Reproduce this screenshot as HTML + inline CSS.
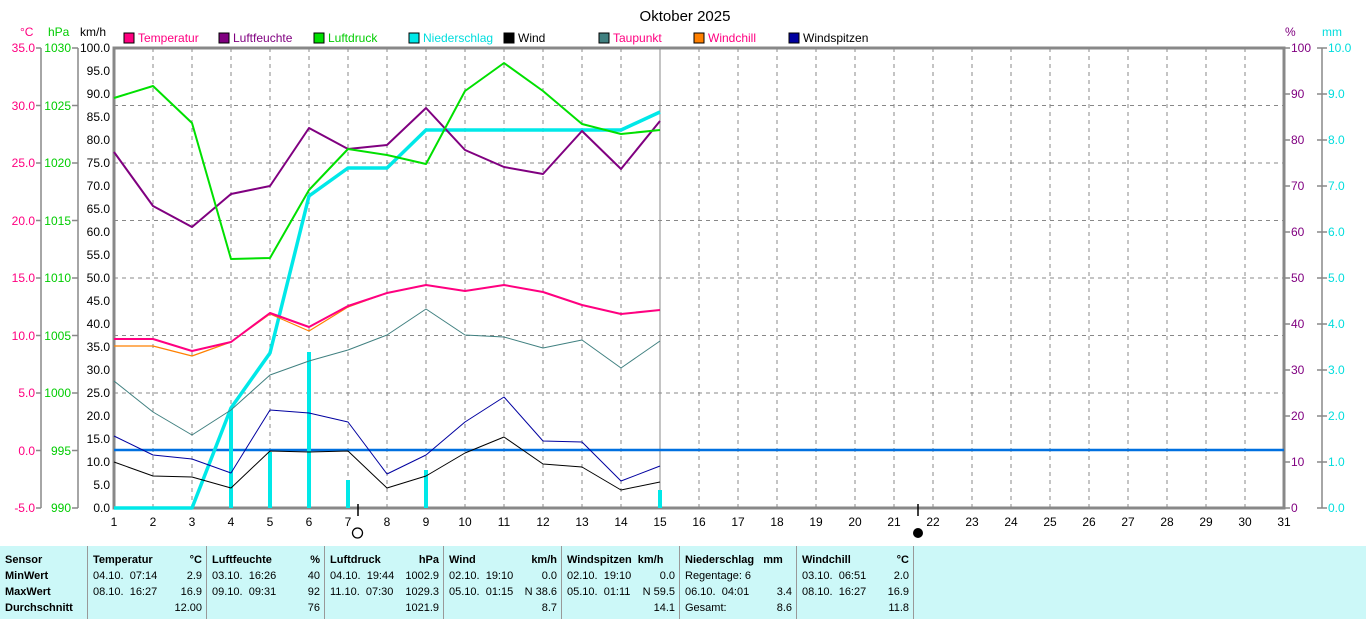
<!DOCTYPE html>
<html><head><meta charset="utf-8"><style>
body{margin:0;background:#fff;width:1366px;height:619px;overflow:hidden;position:relative;font-family:"Liberation Sans",sans-serif}
svg text{font-family:"Liberation Sans",sans-serif;font-size:12px}
#tb{position:absolute;left:0;top:546px;width:1366px;height:73px;background:#ccf8f8}
.c{position:absolute;top:0;height:73px;border-right:1px solid #999;font-family:"Liberation Sans Narrow","Liberation Sans",sans-serif;font-size:11px;line-height:16px;padding-top:6px;box-sizing:border-box}
.r{position:relative;height:16px;white-space:nowrap}
.l{position:absolute;left:5px}.rt{position:absolute;right:4px}
b{font-weight:bold}
</style></head><body>
<svg width="1366" height="546" style="position:absolute;left:0;top:0">
<text x="685" y="21" text-anchor="middle" font-size="15" style="font-size:15px">Oktober 2025</text>
<g id="legend">
<rect x="124" y="33" width="10" height="10" fill="#ff0080" stroke="#000"/><text x="138" y="42" fill="#ff0080">Temperatur</text>
<rect x="219" y="33" width="10" height="10" fill="#800080" stroke="#000"/><text x="233" y="42" fill="#800080">Luftfeuchte</text>
<rect x="314" y="33" width="10" height="10" fill="#00e000" stroke="#000"/><text x="328" y="42" fill="#00cc00">Luftdruck</text>
<rect x="409" y="33" width="10" height="10" fill="#00e8e8" stroke="#000"/><text x="423" y="42" fill="#00dddd">Niederschlag</text>
<rect x="504" y="33" width="10" height="10" fill="#000" stroke="#000"/><text x="518" y="42">Wind</text>
<rect x="599" y="33" width="10" height="10" fill="#408080" stroke="#000"/><text x="613" y="42" fill="#ff0080">Taupunkt</text>
<rect x="694" y="33" width="10" height="10" fill="#ff8000" stroke="#000"/><text x="708" y="42" fill="#ff0080">Windchill</text>
<rect x="789" y="33" width="10" height="10" fill="#0000a0" stroke="#000"/><text x="803" y="42">Windspitzen</text>
</g>
<text x="20" y="36" fill="#ff0080">°C</text><text x="48" y="36" fill="#00cc00">hPa</text><text x="80" y="36">km/h</text>
<text x="1285" y="36" fill="#800080">%</text><text x="1322" y="36" fill="#00dddd">mm</text>
<!-- grid -->
<g stroke="#888" stroke-dasharray="4,4" stroke-width="1">
<path d="M153 48V508M192 48V508M231 48V508M270 48V508M309 48V508M348 48V508M387 48V508M426 48V508M465 48V508M504 48V508M543 48V508M582 48V508M621 48V508M699 48V508M738 48V508M777 48V508M816 48V508M855 48V508M894 48V508M933 48V508M972 48V508M1011 48V508M1050 48V508M1089 48V508M1128 48V508M1167 48V508M1206 48V508M1245 48V508"/>
<path d="M114 105.5H1284M114 163H1284M114 220.5H1284M114 278H1284M114 335.5H1284M114 393H1284"/>
</g>
<path d="M660 48V508" stroke="#888" stroke-width="1"/>
<path d="M114 48H1284V508H114Z" fill="none" stroke="#888" stroke-width="3"/>
<!-- axis lines -->
<g stroke="#888" stroke-width="1.5">
<path d="M41 48V508M78 48V508M1322 48V508"/>
<path d="M36 48h5M36 105.5h5M36 163h5M36 220.5h5M36 278h5M36 335.5h5M36 393h5M36 450.5h5M36 508h5"/>
<path d="M72 48h6M72 105.5h6M72 163h6M72 220.5h6M72 278h6M72 335.5h6M72 393h6M72 450.5h6M72 508h6"/>
<path d="M1284 48h6M1284 94h6M1284 140h6M1284 186h6M1284 232h6M1284 278h6M1284 324h6M1284 370h6M1284 416h6M1284 462h6M1284 508h6"/>
<path d="M1317 48h10M1317 94h10M1317 140h10M1317 186h10M1317 232h10M1317 278h10M1317 324h10M1317 370h10M1317 416h10M1317 462h10M1317 508h10"/>
</g>
<g fill="#ff0080" text-anchor="end">
<text x="35" y="52">35.0</text><text x="35" y="110">30.0</text><text x="35" y="167">25.0</text><text x="35" y="225">20.0</text><text x="35" y="282">15.0</text><text x="35" y="340">10.0</text><text x="35" y="397">5.0</text><text x="35" y="455">0.0</text><text x="35" y="512">-5.0</text>
</g>
<g fill="#00cc00" text-anchor="end">
<text x="71" y="52">1030</text><text x="71" y="110">1025</text><text x="71" y="167">1020</text><text x="71" y="225">1015</text><text x="71" y="282">1010</text><text x="71" y="340">1005</text><text x="71" y="397">1000</text><text x="71" y="455">995</text><text x="71" y="512">990</text>
</g>
<g text-anchor="end">
<text x="110" y="52">100.0</text><text x="110" y="75">95.0</text><text x="110" y="98">90.0</text><text x="110" y="121">85.0</text><text x="110" y="144">80.0</text><text x="110" y="167">75.0</text><text x="110" y="190">70.0</text><text x="110" y="213">65.0</text><text x="110" y="236">60.0</text><text x="110" y="259">55.0</text><text x="110" y="282">50.0</text><text x="110" y="305">45.0</text><text x="110" y="328">40.0</text><text x="110" y="351">35.0</text><text x="110" y="374">30.0</text><text x="110" y="397">25.0</text><text x="110" y="420">20.0</text><text x="110" y="443">15.0</text><text x="110" y="466">10.0</text><text x="110" y="489">5.0</text><text x="110" y="512">0.0</text>
</g>
<g fill="#800080">
<text x="1291" y="52">100</text><text x="1291" y="98">90</text><text x="1291" y="144">80</text><text x="1291" y="190">70</text><text x="1291" y="236">60</text><text x="1291" y="282">50</text><text x="1291" y="328">40</text><text x="1291" y="374">30</text><text x="1291" y="420">20</text><text x="1291" y="466">10</text><text x="1291" y="512">0</text>
</g>
<g fill="#00dddd">
<text x="1328" y="52">10.0</text><text x="1328" y="98">9.0</text><text x="1328" y="144">8.0</text><text x="1328" y="190">7.0</text><text x="1328" y="236">6.0</text><text x="1328" y="282">5.0</text><text x="1328" y="328">4.0</text><text x="1328" y="374">3.0</text><text x="1328" y="420">2.0</text><text x="1328" y="466">1.0</text><text x="1328" y="512">0.0</text>
</g>
<g text-anchor="middle">
<text x="114" y="526">1</text><text x="153" y="526">2</text><text x="192" y="526">3</text><text x="231" y="526">4</text><text x="270" y="526">5</text><text x="309" y="526">6</text><text x="348" y="526">7</text><text x="387" y="526">8</text><text x="426" y="526">9</text><text x="465" y="526">10</text><text x="504" y="526">11</text><text x="543" y="526">12</text><text x="582" y="526">13</text><text x="621" y="526">14</text><text x="660" y="526">15</text><text x="699" y="526">16</text><text x="738" y="526">17</text><text x="777" y="526">18</text><text x="816" y="526">19</text><text x="855" y="526">20</text><text x="894" y="526">21</text><text x="933" y="526">22</text><text x="972" y="526">23</text><text x="1011" y="526">24</text><text x="1050" y="526">25</text><text x="1089" y="526">26</text><text x="1128" y="526">27</text><text x="1167" y="526">28</text><text x="1206" y="526">29</text><text x="1245" y="526">30</text><text x="1284" y="526">31</text>
</g>
<path d="M358 504V516M918 504V516" stroke="#000" stroke-width="1.5"/>
<circle cx="357.5" cy="533" r="5" fill="none" stroke="#000" stroke-width="1.3"/>
<circle cx="918" cy="533" r="5" fill="#000"/>
<!-- 0°C line -->
<path d="M114 450H1284" stroke="#0070e0" stroke-width="2.5"/>
<!-- rain bars -->
<g stroke="#00e8e8" stroke-width="4">
<path d="M231 508V408M270 508V452M309 508V352M348 508V480M426 508V470M660 508V490"/>
</g>
<g fill="none" stroke-linejoin="round">
<polyline stroke="#00e8e8" stroke-width="3.5" points="114,508 153,508 192,508 231,408 270,353 309,196 348,168 387,168 426,130 465,130 504,130 543,130 582,130 621,130 660,112"/>
<polyline stroke="#000" stroke-width="1" points="114,462 153,476 192,477 231,488 270,451 309,452 348,451 387,488 426,476 465,453 504,437 543,464 582,467 621,490 660,482"/>
<polyline stroke="#0000a0" stroke-width="1" points="114,436 153,455 192,459 231,473 270,410 309,413 348,422 387,474 426,455 465,422 504,397 543,441 582,442 621,481 660,466"/>
<polyline stroke="#408080" stroke-width="1" points="114,381 153,412 192,435 231,410 270,375 309,361 348,350 387,335 426,309 465,335 504,337 543,348 582,340 621,368 660,341"/>
<polyline stroke="#ff8000" stroke-width="1.2" points="114,346 153,346 192,356 231,342 270,314 309,331 348,307 387,293 426,285 465,291 504,285 543,292 582,305 621,314 660,310"/>
<polyline stroke="#ff0080" stroke-width="2" points="114,339 153,339 192,351 231,342 270,313 309,327 348,306 387,293 426,285 465,291 504,285 543,292 582,305 621,314 660,310"/>
<polyline stroke="#800080" stroke-width="2" points="114,152 153,206 192,227 231,194 270,186 309,128 348,149 387,145 426,108 465,150 504,167 543,174 582,131 621,169 660,121"/>
<polyline stroke="#00e000" stroke-width="2" points="114,98 153,86 192,123 231,259 270,258 309,190 348,149 387,155 426,164 465,91 504,63 543,91 582,124 621,134 660,130"/>
</g>
</svg>
<div id="tb">
<div class="c" style="left:0;width:88px"><div class="r"><b class="l">Sensor</b></div><div class="r"><b class="l">MinWert</b></div><div class="r"><b class="l">MaxWert</b></div><div class="r"><b class="l">Durchschnitt</b></div></div>
<div class="c" style="left:88px;width:119px"><div class="r"><b class="l">Temperatur</b><b class="rt">°C</b></div><div class="r"><span class="l">04.10.&nbsp; 07:14</span><span class="rt">2.9</span></div><div class="r"><span class="l">08.10.&nbsp; 16:27</span><span class="rt">16.9</span></div><div class="r"><span class="rt">12.00</span></div></div>
<div class="c" style="left:207px;width:118px"><div class="r"><b class="l">Luftfeuchte</b><b class="rt">%</b></div><div class="r"><span class="l">03.10.&nbsp; 16:26</span><span class="rt">40</span></div><div class="r"><span class="l">09.10.&nbsp; 09:31</span><span class="rt">92</span></div><div class="r"><span class="rt">76</span></div></div>
<div class="c" style="left:325px;width:119px"><div class="r"><b class="l">Luftdruck</b><b class="rt">hPa</b></div><div class="r"><span class="l">04.10.&nbsp; 19:44</span><span class="rt">1002.9</span></div><div class="r"><span class="l">11.10.&nbsp; 07:30</span><span class="rt">1029.3</span></div><div class="r"><span class="rt">1021.9</span></div></div>
<div class="c" style="left:444px;width:118px"><div class="r"><b class="l">Wind</b><b class="rt">km/h</b></div><div class="r"><span class="l">02.10.&nbsp; 19:10</span><span class="rt">0.0</span></div><div class="r"><span class="l">05.10.&nbsp; 01:15</span><span class="rt">N 38.6</span></div><div class="r"><span class="rt">8.7</span></div></div>
<div class="c" style="left:562px;width:118px"><div class="r"><b class="l">Windspitzen&nbsp; km/h</b></div><div class="r"><span class="l">02.10.&nbsp; 19:10</span><span class="rt">0.0</span></div><div class="r"><span class="l">05.10.&nbsp; 01:11</span><span class="rt">N 59.5</span></div><div class="r"><span class="rt">14.1</span></div></div>
<div class="c" style="left:680px;width:117px"><div class="r"><b class="l">Niederschlag&nbsp;&nbsp; mm</b></div><div class="r"><span class="l">Regentage: 6</span></div><div class="r"><span class="l">06.10.&nbsp; 04:01</span><span class="rt">3.4</span></div><div class="r"><span class="l">Gesamt:</span><span class="rt">8.6</span></div></div>
<div class="c" style="left:797px;width:117px"><div class="r"><b class="l">Windchill</b><b class="rt">°C</b></div><div class="r"><span class="l">03.10.&nbsp; 06:51</span><span class="rt">2.0</span></div><div class="r"><span class="l">08.10.&nbsp; 16:27</span><span class="rt">16.9</span></div><div class="r"><span class="rt">11.8</span></div></div>
</div>
</body></html>
